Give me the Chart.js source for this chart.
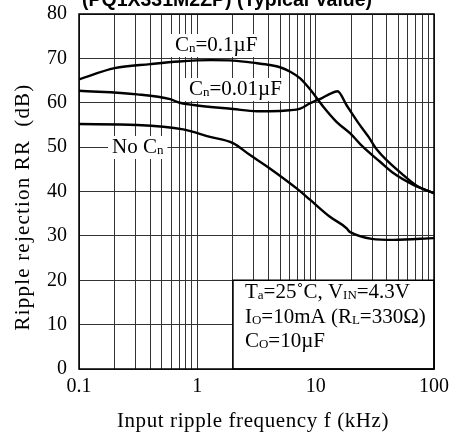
<!DOCTYPE html>
<html>
<head>
<meta charset="utf-8">
<script src="https://cdn.jsdelivr.net/npm/chart.js@4/dist/chart.umd.min.js"></script>
<style>
  html, body { margin: 0; padding: 0; background: #fff; }
  #wrap { width: 452px; height: 434px; }
</style>
</head>
<body>
<div id="wrap"><canvas id="rrChart" width="452" height="434"></canvas></div>
<script>
// values (f in kHz, RR in dB)
const freq01 = [0.1, 0.2, 0.4, 0.7, 1.3, 2, 3.2, 4.1, 5, 6.1, 7.4, 9.3, 11.6, 15, 19.6, 25, 35, 45.6, 67, 100];
const rr01   = [65.3, 67.8, 68.7, 69.3, 69.6, 69.5, 68.9, 68.5, 68.0, 67.0, 65.5, 62.5, 59.1, 55.7, 53.1, 50.1, 46.7, 44.1, 41.5, 39.6];

const freq001 = [0.1, 0.31, 0.59, 0.71, 0.93, 2, 3.2, 4.1, 6, 7.4, 9, 11.2, 13.2, 15.3, 18.2, 23, 28, 33, 55, 71.5, 100];
const rr001   = [62.7, 61.9, 60.8, 60.0, 59.5, 58.6, 58.1, 58.1, 58.3, 58.7, 59.9, 61.0, 62.0, 62.6, 59.5, 55.4, 52.3, 49.4, 43.7, 41.3, 39.6];

const freqNo = [0.1, 0.31, 0.76, 1.28, 2.0, 2.79, 4.1, 6.9, 9.0, 13.2, 18.3, 19.4, 45.6, 100];
const rrNo   = [55.2, 55.0, 54.0, 52.3, 50.9, 48.2, 45.2, 40.7, 38.1, 34.3, 31.7, 30.9, 29.1, 29.5];

const gridFreqs = [0.1,0.2,0.3,0.4,0.5,0.6,0.7,0.8,0.9,1,2,3,4,5,6,7,8,9,10,20,30,40,50,60,70,80,90,100];
const xTickLabels = {0.1: "0.1", 1: "1", 10: "10", 100: "100"};

const serif = '"Liberation Serif", "DejaVu Serif", serif';

function pts(xs, ys) {
    return xs.map(function (x, i) { return {x: x, y: ys[i]}; });
}

// text with small subscript pieces: parts = [[text, isSub], ...]
function richText(ctx, parts, x, y, size) {
    let cx = x;
    parts.forEach(function (p) {
        ctx.font = (p[1] ? Math.round(size * 0.64) : size) + "px " + serif;
        ctx.fillText(p[0], cx, y + (p[1] ? 1 : 0));
        cx += ctx.measureText(p[0]).width;
    });
    return cx - x;
}
function richWidth(ctx, parts, size) {
    let w = 0;
    parts.forEach(function (p) {
        ctx.font = (p[1] ? Math.round(size * 0.64) : size) + "px " + serif;
        w += ctx.measureText(p[0]).width;
    });
    return w;
}

const extras = {
    id: 'extras',
    beforeDatasetsDraw: function (chart) {
        const ctx = chart.ctx;
        ctx.save();
        ctx.textBaseline = 'alphabetic';
        ctx.textAlign = 'left';
        // curve labels on white
        const labels = [
            {parts: [["C", 0], ["n", 1], ["=0.1\u00b5F", 0]], x: 175, y: 51},
            {parts: [["C", 0], ["n", 1], ["=0.01\u00b5F", 0]], x: 189, y: 95},
            {parts: [["No C", 0], ["n", 1]], x: 112, y: 153}
        ];
        labels.forEach(function (l) {
            const w = richWidth(ctx, l.parts, 21);
            ctx.fillStyle = '#fff';
            ctx.fillRect(l.x - 4, l.y - 17, w + 8, 23);
            ctx.fillStyle = '#000';
            richText(ctx, l.parts, l.x, l.y, 21);
        });
        ctx.restore();
    },
    afterDraw: function (chart) {
        const ctx = chart.ctx;
        const a = chart.chartArea;
        const xs = chart.scales.x, ys = chart.scales.y;
        ctx.save();
        // conditions box
        const bx = xs.getPixelForValue(2), by = ys.getPixelForValue(20);
        ctx.fillStyle = '#fff';
        ctx.fillRect(bx, by, a.right - bx, a.bottom - by);
        ctx.strokeStyle = '#000';
        ctx.lineWidth = 1.5;
        ctx.strokeRect(bx, by, a.right - bx, a.bottom - by);
        ctx.fillStyle = '#000';
        ctx.textAlign = 'left';
        richText(ctx, [["T", 0], ["a", 1], ["=25\u02daC, V", 0], ["IN", 1], ["=4.3V", 0]], bx + 12, by + 18, 21);
        richText(ctx, [["I", 0], ["O", 1], ["=10mA (R", 0], ["L", 1], ["=330\u03a9)", 0]], bx + 12, by + 43, 21);
        richText(ctx, [["C", 0], ["O", 1], ["=10\u00b5F", 0]], bx + 12, by + 67, 21);

        // frame
        ctx.strokeRect(a.left, a.top, a.right - a.left, a.bottom - a.top);

        // axis titles
        ctx.font = '21px ' + serif;
        ctx.textAlign = 'center';
        ctx.letterSpacing = '0.6px';
        ctx.fillText('Input ripple frequency f (kHz)', 253, 427);
        ctx.save();
        ctx.letterSpacing = '1.2px';
        ctx.translate(29, 207);
        ctx.rotate(-Math.PI / 2);
        ctx.fillText('Ripple rejection RR  (dB)', 0, 0);
        ctx.restore();
        ctx.letterSpacing = '0px';

        // chart title, cut by the top edge as in the picture
        ctx.font = 'bold 19.5px "Liberation Sans", Arial, sans-serif';
        ctx.textAlign = 'left';
        ctx.fillText('(PQ1X331M2ZP) (Typical Value)', 82, 6);
        ctx.restore();
    }
};

const lineStyle = {
    borderColor: '#000',
    backgroundColor: '#000',
    borderWidth: 2.4,
    pointRadius: 0,
    fill: false,
    cubicInterpolationMode: 'monotone'
};

const data = {
    datasets: [
        Object.assign({label: 'Cn=0.1uF', data: pts(freq01, rr01)}, lineStyle),
        Object.assign({label: 'Cn=0.01uF', data: pts(freq001, rr001)}, lineStyle),
        Object.assign({label: 'No Cn', data: pts(freqNo, rrNo)}, lineStyle)
    ]
};

const config = {
    type: 'line',
    data: data,
    plugins: [extras],
    options: {
        responsive: false,
        animation: false,
        layout: { padding: { top: 14, right: 18, left: 0, bottom: 0 } },
        plugins: { legend: { display: false }, tooltip: { enabled: false } },
        scales: {
            x: {
                type: 'logarithmic',
                min: 0.1,
                max: 100,
                afterBuildTicks: function (scale) {
                    scale.ticks = gridFreqs.map(function (v) { return {value: v}; });
                },
                afterFit: function (scale) {
                    scale.height = 65;
                    scale.paddingLeft = 0;
                    scale.paddingRight = 0;
                },
                grid: { color: '#333', lineWidth: 1, drawTicks: false },
                border: { display: false },
                ticks: {
                    autoSkip: false,
                    maxRotation: 0,
                    padding: 6,
                    color: '#000',
                    font: { family: serif, size: 20 },
                    callback: function (v) { return xTickLabels[v] || ''; }
                }
            },
            y: {
                min: 0,
                max: 80,
                afterFit: function (scale) {
                    scale.width = 79;
                    scale.paddingTop = 0;
                    scale.paddingBottom = 0;
                },
                grid: { color: '#333', lineWidth: 1, drawTicks: false },
                border: { display: false },
                ticks: {
                    stepSize: 10,
                    padding: 12,
                    color: '#000',
                    font: { family: serif, size: 20 }
                }
            }
        }
    }
};

const ctx = document.getElementById('rrChart').getContext('2d');
const rrChart = new Chart(ctx, config);
</script>
</body>
</html>
